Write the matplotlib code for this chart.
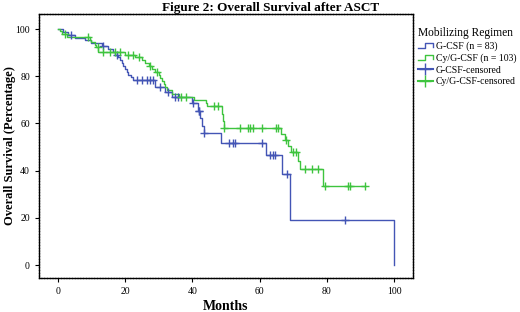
import numpy as np
import matplotlib
matplotlib.use("Agg")
import matplotlib.pyplot as plt
from matplotlib.lines import Line2D
from matplotlib.legend_handler import HandlerBase

plt.rcParams['font.family'] = ['Liberation Serif', 'DejaVu Serif']

# step curves: time (months) at which survival drops to the value
gcsf_t = [0, 1.5, 3, 5, 8, 10, 13, 15, 16.5, 17, 18, 18.5, 19, 19.5, 20, 20.5, 21, 21.7, 22.3,
          29, 32, 33.9, 39.8, 41.8, 42.2, 42.8, 43.4, 48.5, 62, 66.6, 69, 100]
gcsf_s = [100, 98.8, 97.6, 96.4, 95.2, 94, 92.8, 91.6, 90.4, 89.2, 88, 86.8, 85.5, 84.3, 83.1, 81.9, 80.7, 79.5, 78.3,
          75.6, 73.5, 71.3, 68.5, 65.2, 62.2, 59, 56, 51.7, 46.5, 38.5, 19.2, 0]
gcsf_cens = [4, 13.5, 17.5, 23.5, 25, 26.4, 27.4, 28.4, 30.4, 32.9, 34.9, 35.8, 40.3, 42, 42.1, 43.6,
             51, 52.2, 52.7, 60.6, 63.1, 63.9, 64.6, 68.2, 85.4]

cy_t = [0, 0.5, 1.2, 2.7, 9.5, 10, 11, 11.5, 12, 20, 23, 25, 26, 27, 28, 29, 30, 30.5, 31, 31.5, 32, 32.5,
        34, 36, 40.5, 44, 44.5, 48.7, 49, 49.3, 66.5, 67.5, 68.5, 69.3, 71.5, 72, 79]
cy_s = [100, 99, 97.8, 96.7, 95.6, 94.5, 93.4, 92.3, 90.4, 89.2, 88, 86.8, 85.5, 84.3, 83, 81.8, 80.5, 79.2, 78,
        76.7, 75.4, 74, 72.7, 71.4, 70, 68.7, 67.3, 64, 61, 58, 55.5, 53, 50.5, 48, 44, 40.5, 33.5]
cy_cens = [2, 9, 11.8, 13.5, 15.5, 17, 18.5, 21, 22.5, 24, 27.5, 29.5, 36.5, 38, 46.5, 47.5, 49.5,
           54.2, 56.6, 57.1, 58, 60.6, 65, 65.5, 67.8, 69.8, 70.8, 73.5, 75.5, 77.4, 79.4, 86.4, 87, 91.3]
cy_end = 91.5

blue = '#4355b5'
green = '#3ec43e'


def step_at(ts, ss, x):
    i = np.searchsorted(ts, x, side='right') - 1
    return np.array(ss)[i]


fig = plt.figure(figsize=(5.2, 3.12), dpi=100)
ax = fig.add_axes([0.075, 0.109, 0.719, 0.846])

ax.step(gcsf_t, gcsf_s, where='post', color=blue, lw=1)
ax.step(cy_t + [cy_end], cy_s + [cy_s[-1]], where='post', color=green, lw=1)
ax.plot(gcsf_cens, step_at(gcsf_t, gcsf_s, gcsf_cens), ls='none', marker='+', ms=6, mew=1, color=blue)
ax.plot(cy_cens, step_at(cy_t, cy_s, cy_cens), ls='none', marker='+', ms=6, mew=1, color=green)

ax.set_xlim(-5.6, 105.6)
ax.set_ylim(-5.5, 106.4)
ax.set_xticks([0, 20, 40, 60, 80, 100])
ax.set_yticks([0, 20, 40, 60, 80, 100])
ax.tick_params(labelsize=7, length=3, width=0.8, direction='out')
for sp in ax.spines.values():
    sp.set_linewidth(1.0)
    sp.set_linestyle((0, (1.5, 0.5)))
ax.set_xlabel('Months', fontsize=10, fontweight='bold', va='center')
ax.xaxis.set_label_coords(0.5, -0.109)
ax.set_ylabel('Overall Survival (Percentage)', fontsize=9, fontweight='bold', va='center')
ax.yaxis.set_label_coords(-0.078, 0.5)
fig.suptitle('Figure 2: Overall Survival after ASCT', x=0.52, y=0.995, fontsize=9.5, fontweight='bold')


class StepHandler(HandlerBase):
    def create_artists(self, legend, orig, xd, yd, w, h, fontsize, trans):
        xs = [xd, xd + 0.45 * w, xd + 0.45 * w, xd + w, xd + w]
        ys = [yd + 0.2 * h, yd + 0.2 * h, yd + 0.8 * h, yd + 0.8 * h, yd + 0.3 * h]
        ln = Line2D(xs, ys, color=orig.get_color(), lw=1, transform=trans)
        return [ln]


h1 = Line2D([], [], color=blue)
h2 = Line2D([], [], color=green)
h3 = Line2D([], [], color=blue, marker='+', ms=8, mew=1)
h4 = Line2D([], [], color=green, marker='+', ms=8, mew=1)
leg = fig.legend([h1, h2, h3, h4],
                 ['G-CSF (n = 83)', 'Cy/G-CSF (n = 103)', 'G-CSF-censored', 'Cy/G-CSF-censored'],
                 handler_map={h1: StepHandler(), h2: StepHandler()},
                 loc='upper left', bbox_to_anchor=(0.79, 0.935), frameon=False,
                 title='Mobilizing Regimen', title_fontsize=8.3, fontsize=7,
                 handlelength=1.6, handletextpad=0.3, labelspacing=0.25, borderpad=0.2)
leg._legend_box.align = 'left'

fig.savefig('out.png', dpi=100)
